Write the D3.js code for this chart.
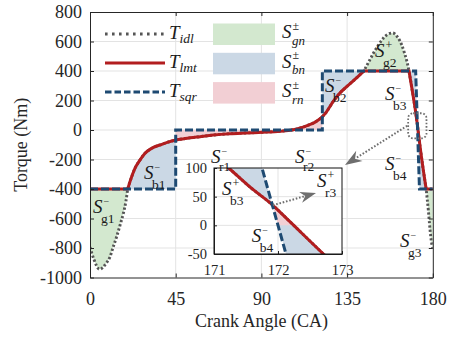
<!DOCTYPE html>
<html>
<head>
<meta charset="utf-8">
<script src="https://cdnjs.cloudflare.com/ajax/libs/d3/7.8.5/d3.min.js"></script>
<style>
  body { margin: 0; background: #fff; }
  svg { display: block; font-family: "Liberation Serif", "Times New Roman", serif; }
</style>
</head>
<body>
<svg id="chart" width="451" height="338"></svg>
<script>
// ---- data (crank angle in deg, torque in Nm) ----
var tLimit = 400;

// idle torque T_idl
var idlAngle = [0, 2, 5, 8.4, 10.5, 12.2, 14, 15.8, 17.5, 18.9, 19.8,
  21, 23.6, 26.3, 28.9, 32.4, 37.7, 42.9, 45, 50, 57.8, 64.8, 73.5, 82, 91, 100, 106, 110, 115, 118, 121, 124, 127.8, 131, 134.8, 139.5, 143.8,
  146.5, 148.8, 151.5, 154, 156.5, 159, 161.5, 163.7, 165.3, 166.5, 167.5,
  169.5, 171.23, 171.56, 171.92, 172.19, 172.71, 174.6, 176.5,
  177, 177.7, 178.3, 178.9, 179.5, 180];
var idlTorque = [-795, -875, -944, -905, -860, -792, -723, -644, -565, -480, -400,
  -350, -260, -203, -158, -124, -97, -75, -68, -58, -45, -34, -25, -20, -15, -8, 0, 12, 35, 52, 78, 120, 195, 248, 294, 348, 400,
  465, 520, 578, 622, 650, 658, 630, 576, 515, 460, 400,
  245, 100, 67, 35, 6, -50, -235, -400,
  -460, -550, -640, -720, -775, -800];

// limited torque T_lmt
var lmtAngle = [0, 19.8,
  21, 23.6, 26.3, 28.9, 32.4, 37.7, 42.9, 45, 50, 57.8, 64.8, 73.5, 82, 91, 100, 106, 110, 115, 118, 121, 124, 127.8, 131, 134.8, 139.5, 143.8,
  167.5, 169.5, 171.23, 171.56, 171.92, 172.19, 172.71, 174.6, 176.5, 180];
var lmtTorque = [-400, -400,
  -350, -260, -203, -158, -124, -97, -75, -68, -58, -45, -34, -25, -20, -15, -8, 0, 12, 35, 52, 78, 120, 195, 248, 294, 348, 400,
  400, 245, 100, 67, 35, 6, -50, -235, -400, -400];

// square torque T_sqr
var sqrAngle = [0, 45, 45, 122, 122, 171, 173, 180];
var sqrTorque = [-400, -400, 0, 0, 400, 400, -400, -400];

// ticks
var xTicks = [0, 45, 90, 135, 180];
var yTicks = [-1000, -800, -600, -400, -200, 0, 200, 400, 600, 800];
var ixTicks = [171, 172, 173];
var iyTicks = [-50, 0, 50, 100];

// ---- colours ----
var cIdl = "#555555", cLmt = "#b21d1f", cSqr = "#1e4a72";
var cGreen = "#d3e8cf", cBlue = "#cbd8e5", cPink = "#f2cfd4";
var cAxis = "#262626", cGrid = "#e3e3e3", cText = "#1a1a1a";
var minus = "\u2212";

var svg = d3.select("#chart");
var defs = svg.append("defs");

var x = d3.scaleLinear().domain([0, 180]).range([90, 432.8]);
var y = d3.scaleLinear().domain([-1000, 800]).range([277.5, 12]);
var ix = d3.scaleLinear().domain([171, 173]).range([214, 342]);
var iy = d3.scaleLinear().domain([-50, 100]).range([254, 168]);

var clipN = 0;
function clipRect(x0, y0, x1, y1) {
  var id = "cp" + (clipN++);
  defs.append("clipPath").attr("id", id).append("rect")
    .attr("x", Math.min(x0, x1)).attr("y", Math.min(y0, y1))
    .attr("width", Math.abs(x1 - x0)).attr("height", Math.abs(y1 - y0));
  return "url(#" + id + ")";
}
function clipPoly(pts) {
  var id = "cp" + (clipN++);
  defs.append("clipPath").attr("id", id).append("polygon")
    .attr("points", pts.map(function(p) { return p.join(","); }).join(" "));
  return "url(#" + id + ")";
}

// split a curve at the points where it touches the torque limit
function splitAtLimit(ang, tor) {
  var segs = [], cur = [];
  ang.forEach(function(a, i) {
    cur.push([a, tor[i]]);
    if (Math.abs(tor[i]) === tLimit && cur.length > 1) {
      segs.push(cur);
      cur = [[a, tor[i]]];
    }
  });
  if (cur.length > 1) segs.push(cur);
  return segs;
}

function segPath(segs, xs, ys) {
  var line = d3.line().x(function(d) { return xs(d[0]); }).y(function(d) { return ys(d[1]); })
    .curve(d3.curveMonotoneX);
  return segs.map(function(s, i) {
    var p = line(s);
    return i ? "L" + p.slice(1) : p;
  }).join("");
}

var idlSegs = splitAtLimit(idlAngle, idlTorque);
var lmtSegs = splitAtLimit(lmtAngle, lmtTorque);
var sqrPts = sqrAngle.map(function(a, i) { return [a, sqrTorque[i]]; });

function drawPanel(g, xs, ys, w) {
  var yTop = ys(1200), yBot = ys(-1400);
  var area = d3.area().x(function(d) { return xs(d[0]); }).y1(function(d) { return ys(d[1]); })
    .curve(d3.curveMonotoneX);
  var line = d3.line().x(function(d) { return xs(d[0]); }).y(function(d) { return ys(d[1]); })
    .curve(d3.curveMonotoneX);

  // green: idle torque beyond the limit
  idlSegs.forEach(function(s) {
    if (d3.max(s, function(d) { return Math.abs(d[1]); }) <= tLimit) return;
    var lvl = d3.mean(s, function(d) { return d[1]; }) > 0 ? tLimit : -tLimit;
    g.append("path").attr("d", area.y0(ys(lvl))(s)).attr("fill", cGreen);
  });

  // blue / pink: between limited and square torque
  for (var i = 0; i < sqrPts.length - 1; i++) {
    var a0 = sqrPts[i][0], a1 = sqrPts[i + 1][0], t0 = sqrPts[i][1], t1 = sqrPts[i + 1][1];
    if (a1 <= a0) continue;
    var segs = lmtSegs.filter(function(s) {
      return s[0][0] < a1 && s[s.length - 1][0] > a0 && s.length > 2;
    });
    if (t0 === t1) {
      var cp = clipRect(xs(a0), yTop, xs(a1), yBot);
      segs.forEach(function(s) {
        g.append("path").attr("d", area.y0(ys(t0))(s))
          .attr("fill", t0 === 0 ? cPink : cBlue).attr("clip-path", cp);
      });
    } else {
      var aZero = a0 + (a1 - a0) * t0 / (t0 - t1);
      segs.forEach(function(s) {
        var d = line(s) + "L" + xs(a1) + "," + ys(t1) + "L" + xs(a0) + "," + ys(t0) + "Z";
        g.append("path").attr("d", d).attr("fill", cBlue)
          .attr("clip-path", clipRect(xs(a0), yTop, xs(a1), yBot));
        g.append("path").attr("d", d).attr("fill", cPink)
          .attr("clip-path", clipPoly([[xs(a0), ys(t0)], [xs(aZero), ys(0)], [xs(a1), ys(0)], [xs(a1), ys(t0)]]));
      });
    }
  }

  g.append("path").attr("d", segPath(idlSegs, xs, ys)).attr("fill", "none")
    .attr("stroke", cIdl).attr("stroke-width", 2.9).attr("stroke-dasharray", "2.2,2.1");
  g.append("path").attr("d", segPath(lmtSegs, xs, ys)).attr("fill", "none")
    .attr("stroke", cLmt).attr("stroke-width", w);
  g.append("path").attr("d", d3.line().x(function(d) { return xs(d[0]); }).y(function(d) { return ys(d[1]); })(sqrPts))
    .attr("fill", "none").attr("stroke", cSqr).attr("stroke-width", w).attr("stroke-dasharray", "8,3");
}

// S with a superscript and a subscript, as one text element
function sLabel(g, px, py, sup, sub, o) {
  o = o || {};
  var t = g.append("text").attr("x", px).attr("y", py).attr("font-size", o.fs || 19).attr("fill", cText);
  t.append("tspan").attr("font-style", "italic").text("S");
  t.append("tspan").attr("x", px + (o.supDx || 10.5)).attr("y", py - (o.supDy || 8))
    .attr("font-size", o.supFs || (sup === minus ? 10 : 12)).text(sup);
  t.append("tspan").attr("x", px + (o.subDx || 8)).attr("y", py + (o.subDy || 10))
    .attr("font-size", o.subFs || 13.5).attr("font-style", o.subItalic ? "italic" : null).text(sub);
}

function arrow(g, x0, y0, x1, y1, L, W) {
  var ang = Math.atan2(y1 - y0, x1 - x0);
  g.append("line").attr("x1", x0).attr("y1", y0)
    .attr("x2", x1 - 0.75 * L * Math.cos(ang)).attr("y2", y1 - 0.75 * L * Math.sin(ang))
    .attr("stroke", "#6e6e6e").attr("stroke-width", 2).attr("stroke-dasharray", "1.6,1.8");
  g.append("path")
    .attr("d", "M0,0L" + (-L) + "," + (-W / 2) + "L" + (-0.7 * L) + ",0L" + (-L) + "," + (W / 2) + "Z")
    .attr("transform", "translate(" + x1 + "," + y1 + ") rotate(" + (ang * 180 / Math.PI) + ")")
    .attr("fill", "#6e6e6e");
}

// ---- main axes ----
var plot = svg.append("g");
var x0p = x.range()[0], x1p = x.range()[1], y0p = y.range()[1], y1p = y.range()[0];

plot.append("g").selectAll("line").data(xTicks.slice(1, -1)).join("line")
  .attr("x1", function(d) { return x(d); }).attr("x2", function(d) { return x(d); })
  .attr("y1", y0p).attr("y2", y1p).attr("stroke", cGrid).attr("stroke-width", 1);
plot.append("g").selectAll("line").data(yTicks.slice(1, -1)).join("line")
  .attr("x1", x0p).attr("x2", x1p)
  .attr("y1", function(d) { return y(d); }).attr("y2", function(d) { return y(d); })
  .attr("stroke", cGrid).attr("stroke-width", 1);

var mainG = plot.append("g").attr("clip-path", clipRect(x0p, y0p, x1p, y1p));
drawPanel(mainG, x, y, 3);

// zoom marker and arrow
var zx0 = x(171) - 7.5, zx1 = x(173) + 7, zy0 = y(100) - 2, zy1 = y(-50) + 1;
plot.append("rect").attr("x", zx0).attr("y", zy0).attr("width", zx1 - zx0).attr("height", zy1 - zy0)
  .attr("rx", 5).attr("fill", "none").attr("stroke", "#6e6e6e").attr("stroke-width", 1.8)
  .attr("stroke-dasharray", "1.6,1.8");
arrow(plot, zx0 - 1, (zy0 + zy1) / 2, 345, 165, 17, 12);

// axes (ticks inward, box)
function styleAxis(g, fs) {
  g.selectAll("path, line").attr("stroke", cAxis);
  g.selectAll("text").attr("fill", cAxis).attr("font-size", fs)
    .attr("font-family", "Liberation Serif, Times New Roman, serif");
}
var fmt = function(d) { return String(d); };
styleAxis(plot.append("g").attr("transform", "translate(0," + y1p + ")")
  .call(d3.axisBottom(x).tickValues(xTicks).tickSize(-4).tickSizeOuter(0).tickPadding(14.5).tickFormat(fmt)), 18);
styleAxis(plot.append("g").attr("transform", "translate(" + x0p + ",0)")
  .call(d3.axisLeft(y).tickValues(yTicks).tickSize(-4).tickSizeOuter(0).tickPadding(8).tickFormat(fmt)), 18);
styleAxis(plot.append("g").attr("transform", "translate(0," + y0p + ")")
  .call(d3.axisTop(x).tickValues(xTicks).tickSize(-4).tickSizeOuter(0).tickFormat("")), 18);
styleAxis(plot.append("g").attr("transform", "translate(" + x1p + ",0)")
  .call(d3.axisRight(y).tickValues(yTicks).tickSize(-4).tickSizeOuter(0).tickFormat("")), 18);

svg.append("text").attr("x", (x0p + x1p) / 2).attr("y", 327).attr("text-anchor", "middle")
  .attr("font-size", 18).attr("fill", cAxis).text("Crank Angle (CA)");
svg.append("text").attr("transform", "translate(27," + ((y0p + y1p) / 2) + ") rotate(-90)")
  .attr("text-anchor", "middle").attr("font-size", 18).attr("fill", cAxis).text("Torque (Nm)");

// ---- inset ----
var ins = svg.append("g");
var ix0 = ix.range()[0], ix1 = ix.range()[1], iy0 = iy.range()[1], iy1 = iy.range()[0];
ins.append("rect").attr("x", ix0).attr("y", iy0).attr("width", ix1 - ix0).attr("height", iy1 - iy0).attr("fill", "#fff");
var insG = ins.append("g").attr("clip-path", clipRect(ix0, iy0, ix1, iy1));
insG.append("line").attr("x1", ix(172)).attr("x2", ix(172)).attr("y1", iy0).attr("y2", iy1)
  .attr("stroke", cGrid);
insG.selectAll(".hg").data([0, 50]).join("line").attr("class", "hg")
  .attr("x1", ix0).attr("x2", ix1).attr("y1", function(d) { return iy(d); }).attr("y2", function(d) { return iy(d); })
  .attr("stroke", cGrid);
drawPanel(insG, ix, iy, 3);

styleAxis(ins.append("g").attr("transform", "translate(0," + iy1 + ")")
  .call(d3.axisBottom(ix).tickValues(ixTicks).tickSize(-3).tickSizeOuter(0).tickPadding(10.5).tickFormat(fmt)), 14.5);
styleAxis(ins.append("g").attr("transform", "translate(" + ix0 + ",0)")
  .call(d3.axisLeft(iy).tickValues(iyTicks).tickSize(-3).tickSizeOuter(0).tickPadding(7).tickFormat(fmt)), 14.5);
ins.append("rect").attr("x", ix0).attr("y", iy0).attr("width", ix1 - ix0).attr("height", iy1 - iy0)
  .attr("fill", "none").attr("stroke", "#111").attr("stroke-width", 1);

sLabel(ins, ix(171.125), iy(52.9), "+", "b3");
sLabel(ins, ix(171.59), iy(-29), minus, "b4");
sLabel(ins, ix(172.61), iy(66.8), "+", "r3");
arrow(ins, ix(171.92), iy(35), 316, 193, 16, 11);

// labels of the areas in the main axes (on top of the inset)
var lab = svg.append("g");
sLabel(lab, x(1.6), y(-563), minus, "g1");
sLabel(lab, x(28.4), y(-332), minus, "b1");
sLabel(lab, x(63.5), y(-222), minus, "r1", { subDy: 8 });
sLabel(lab, x(107.7), y(-222), minus, "r2", { subDy: 8 });
sLabel(lab, x(123.4), y(258), minus, "b2");
sLabel(lab, x(149.7), y(495), "+", "g2");
sLabel(lab, x(154.9), y(203), minus, "b3");
sLabel(lab, x(154.9), y(-271), minus, "b4");
sLabel(lab, x(162.8), y(-793), minus, "g3");

// ---- legend ----
var leg = svg.append("g");
var legRows = [
  { name: "idl", stroke: cIdl, dash: "2.6,4.4", w: 2.8, fill: cGreen, sub: "gn" },
  { name: "lmt", stroke: cLmt, dash: null, w: 3, fill: cBlue, sub: "bn" },
  { name: "sqr", stroke: cSqr, dash: "6.5,3", w: 3, fill: cPink, sub: "rn" }
];
legRows.forEach(function(r, i) {
  var ly = 34 + i * 29;
  leg.append("line").attr("x1", 105).attr("x2", 165).attr("y1", ly).attr("y2", ly)
    .attr("stroke", r.stroke).attr("stroke-width", r.w).attr("stroke-dasharray", r.dash);
  var t = leg.append("text").attr("x", 169).attr("y", ly + 5).attr("font-size", 19)
    .attr("font-style", "italic").attr("fill", cText);
  t.append("tspan").text("T");
  t.append("tspan").attr("font-size", 13.5).attr("dy", 4).text(r.name);
  leg.append("rect").attr("x", 213).attr("y", 23.5 + i * 29.3).attr("width", 62).attr("height", 21.5)
    .attr("fill", r.fill);
  sLabel(leg, 282, 38 + i * 29.5, "\u00b1", r.sub,
    { supDx: 10.5, supDy: 8.5, supFs: 12, subDx: 10, subDy: 6.5, subItalic: true, subFs: 13 });
});
</script>
</body>
</html>
